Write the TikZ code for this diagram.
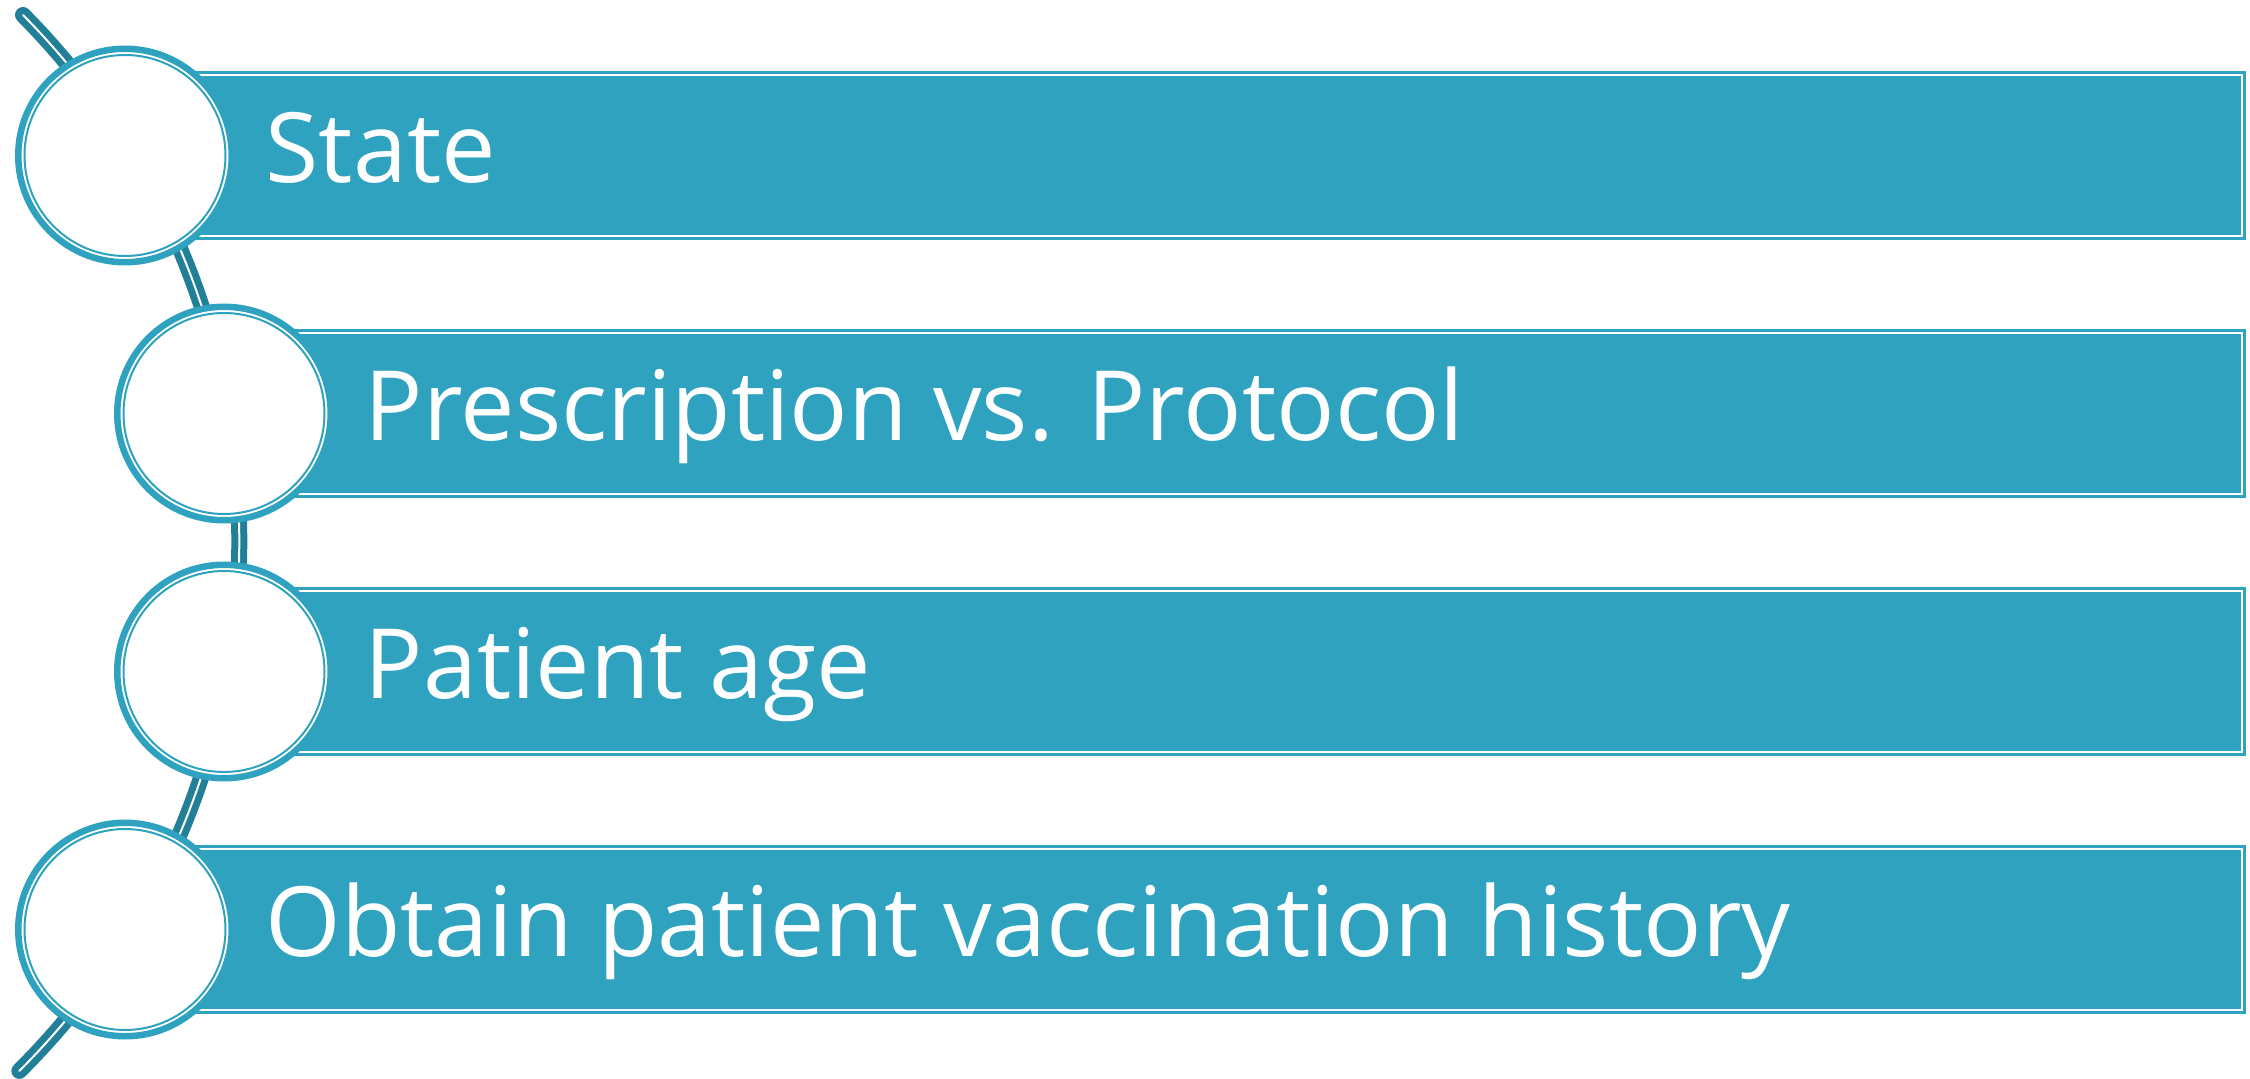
\documentclass[tikz,border=0pt]{standalone}
\usepackage{fontspec}
\setmainfont{Open Sans}
\usetikzlibrary{positioning,calc}
\definecolor{barTeal}{RGB}{46,162,191}
\definecolor{linkTeal}{RGB}{33,127,151}

\begin{document}
\begin{tikzpicture}[
  x=0.1mm, y=-0.1mm,
  bar/.style={fill=barTeal,draw=barTeal,double=white,double distance=0.2mm,
    line width=0.3mm,minimum height=16.1mm,inner sep=0pt,anchor=east},
  ring/.style={circle,fill=white,draw=barTeal,line width=0.65mm,
    minimum size=21.35mm,inner sep=0pt,
    path picture={\draw[barTeal,line width=0.2mm]
      (path picture bounding box.center) circle[radius=10.05mm];}},
  caption/.style={anchor=base west,text=white,inner sep=0pt,
    font=\fontsize{27.6}{33}\selectfont},
  link/.style={draw=linkTeal,double=white,double distance=0.2mm,
    line width=0.7mm,line cap=round}
]
\useasboundingbox (0,0) rectangle (2250,1079);

% arc behind the circles
\coordinate (arctop) at (23,15);
\draw[link] (arctop) arc[start angle=44.7,end angle=-45.1,radius=74.8mm];

\node[bar,minimum width=211.8mm] (bar1) at (2243,155.5) {};
\node[bar,minimum width=201.9mm] (bar2) at (2243,413.5) {};
\node[bar,minimum width=201.9mm] (bar3) at (2243,671.5) {};
\node[bar,minimum width=211.8mm] (bar4) at (2243,929.5) {};

\node[ring] (c1) at (125,155.5) {};
\node[ring] (c2) at (224,413.5) {};
\node[ring] (c3) at (224,671.5) {};
\node[ring] (c4) at (125,929.5) {};

\node[caption] (t1) at ($(c1)+(140,27)$) {State};
\node[caption] (t2) at ($(c2)+(140,27)$) {Prescription vs. Protocol};
\node[caption] (t3) at ($(c3)+(140,27)$) {Patient age};
\node[caption] (t4) at ($(c4)+(140,27)$) {Obtain patient vaccination history};
\end{tikzpicture}
\end{document}
